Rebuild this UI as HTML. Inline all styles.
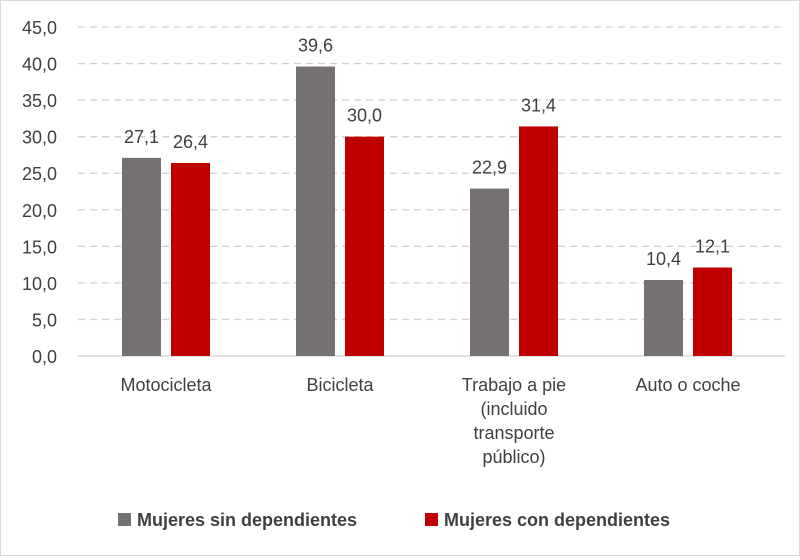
<!DOCTYPE html>
<html><head><meta charset="utf-8"><style>
body{margin:0;background:#fff;}
#wrap{position:relative;width:798px;height:554px;border:1px solid #d9d9d9;font-family:"Liberation Sans",sans-serif;}
svg text{font-family:"Liberation Sans",sans-serif;fill:#404040;}
</style></head><body>
<div id="wrap">
<svg id="chart" width="798" height="554"></svg>
</div>
<script>
const categories=[["Motocicleta"],["Bicicleta"],["Trabajo a pie","(incluido","transporte","público)"],["Auto o coche"]];
const sinDep=[27.1,39.6,22.9,10.4];
const conDep=[26.4,30.0,31.4,12.1];
const ticks=[0,5,10,15,20,25,30,35,40,45];
const seriesNames=["Mujeres sin dependientes","Mujeres con dependientes"];
const colors=["#767171","#c00000"];
const NS="http://www.w3.org/2000/svg";
const svg=document.getElementById('chart');
const x0=77,x1=784,y0=355,y1=26,ymax=45;
const yScale=v=>y0-(v/ymax)*(y0-y1);
const cw=174;
const bw=39,gap=10;
function mk(t,a){const e=document.createElementNS(NS,t);for(const k in a)e.setAttribute(k,a[k]);svg.appendChild(e);return e;}
const fmt=v=>v.toFixed(1).replace('.',',');
ticks.forEach(t=>{
  const y=yScale(t);
  if(t>0){const g=mk('line',{x1:x0,x2:x1,y1:y,y2:y,stroke:'#d0d0d0','stroke-width':1.3,'stroke-dasharray':'7,5'});
  
  }
  const l=mk('text',{x:56,y:y+7,'text-anchor':'end','font-size':18});
  l.textContent=fmt(t);
  
  
});
const ax=mk('line',{x1:x0,x2:x1,y1:y0,y2:y0,stroke:'#d0d0d0','stroke-width':1.3});


categories.forEach((c,i)=>{
  const cx=x0+1+cw*i+cw/2;
  [sinDep[i],conDep[i]].forEach((v,s)=>{
    const bx=s===0?cx-gap/2-bw:cx+gap/2;
    const r=mk('rect',{x:bx,y:yScale(v),width:bw,height:y0-yScale(v),fill:colors[s]});
    
    
    const t=mk('text',{x:bx+bw/2,y:yScale(v)-15,'text-anchor':'middle','font-size':18});
    t.textContent=fmt(v);
    
    
  });
  c.forEach((line,k)=>{
    const t=mk('text',{x:cx,y:390+k*24,'text-anchor':'middle','font-size':18});
    t.textContent=line;
    
    
  });
});
const lx=[117,424];
seriesNames.forEach((n,s)=>{
  const r=mk('rect',{x:lx[s],y:512,width:13,height:13,fill:colors[s]});
  
  
  const t=mk('text',{x:lx[s]+19,y:525,'font-size':18,'font-weight':'bold'});
  t.textContent=n;
  
  
});
</script>
</body></html>
